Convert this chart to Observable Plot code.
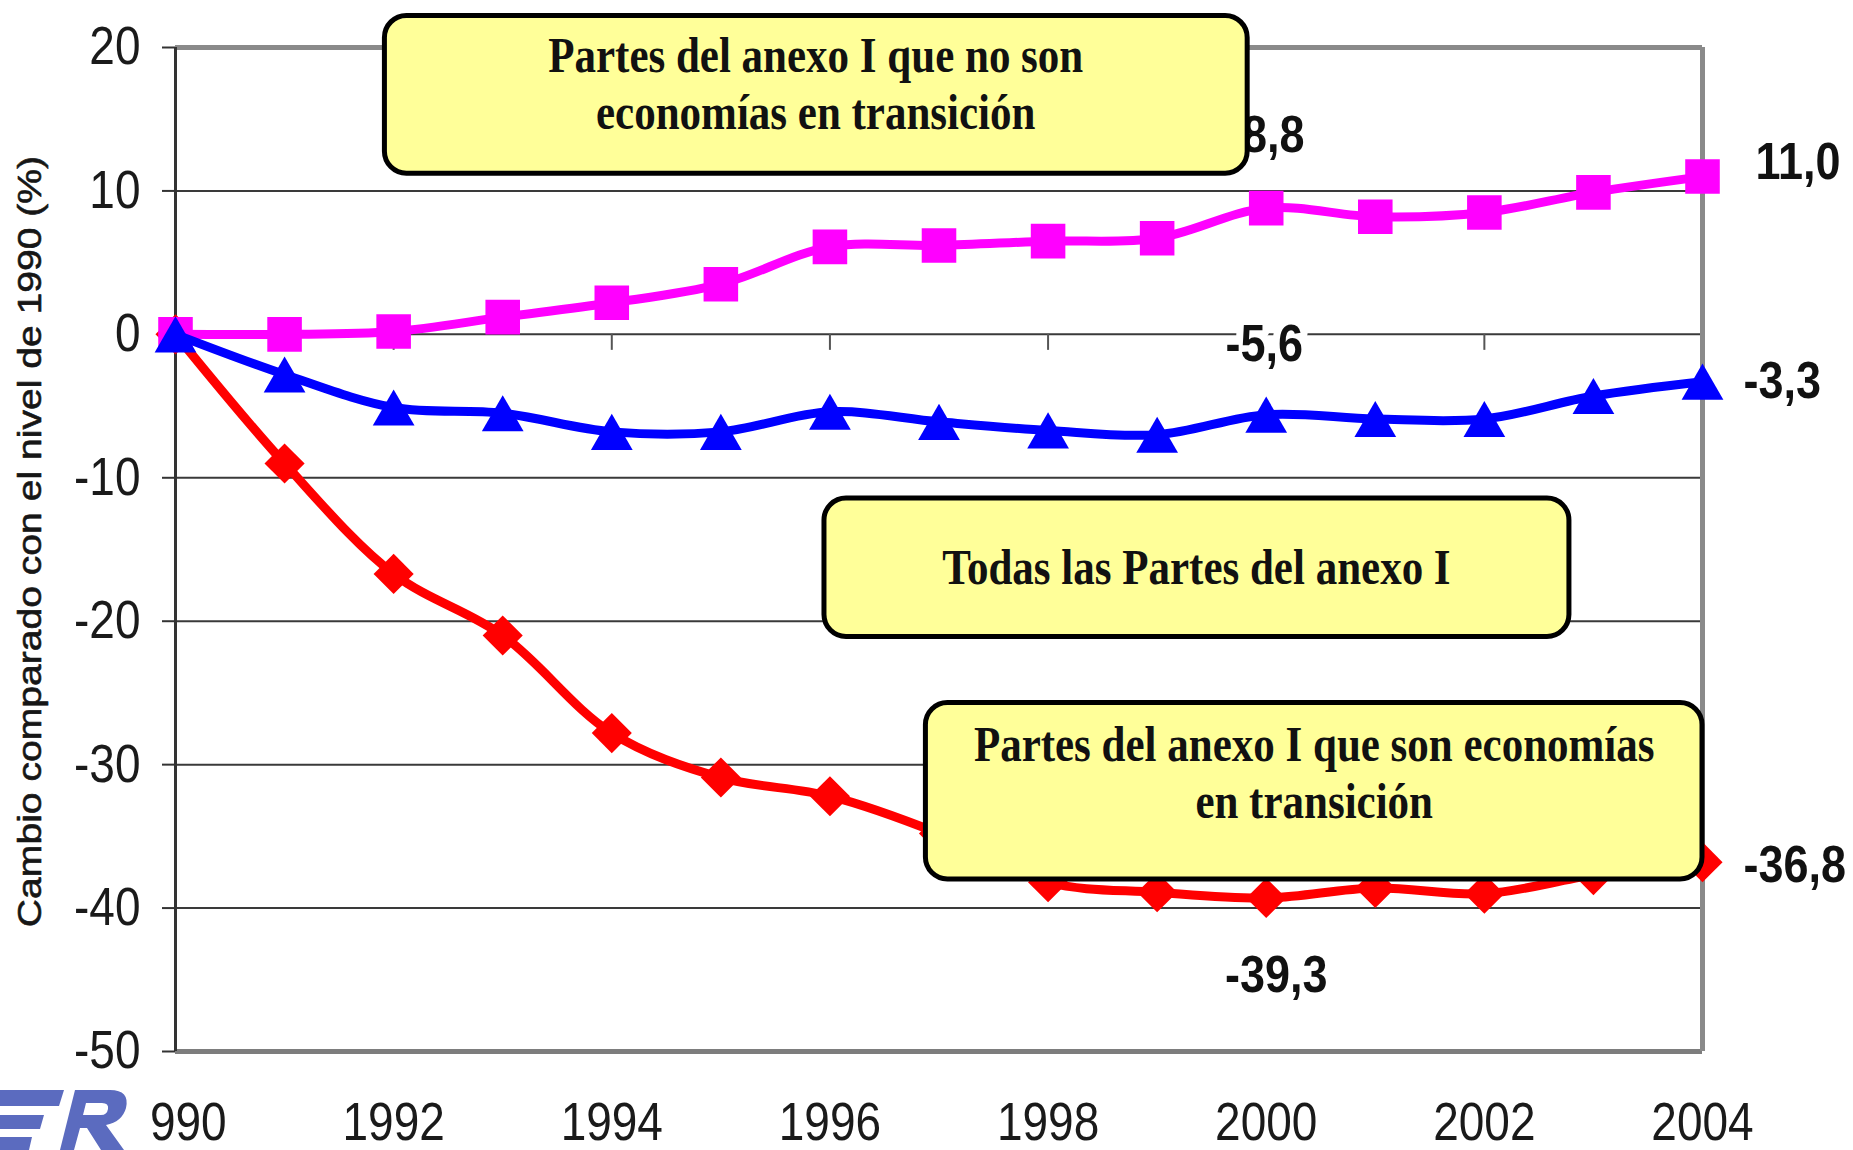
<!DOCTYPE html>
<html>
<head>
<meta charset="utf-8">
<script src="https://cdn.jsdelivr.net/npm/d3@7"></script>
<script src="https://cdn.jsdelivr.net/npm/@observablehq/plot@0.6"></script>
<style>
  html, body { margin: 0; padding: 0; background: #fff; }
  #wrap { position: relative; width: 1853px; height: 1150px; overflow: hidden; background: #fff; }
  #wrap > svg { display: block; }
  #logo { position: absolute; left: 0; top: 0; pointer-events: none; }
</style>
</head>
<body>
<div id="wrap"></div>
<script>
// ---------------- data ----------------
const years = [1990, 1991, 1992, 1993, 1994, 1995, 1996, 1997, 1998, 1999, 2000, 2001, 2002, 2003, 2004];
const nonEIT    = [0, 0, 0.2, 1.2, 2.2, 3.5, 6.1, 6.2, 6.5, 6.7, 8.8, 8.2, 8.5, 9.9, 11.0];
const allAnnexI = [0, -2.8, -5.1, -5.5, -6.8, -6.8, -5.4, -6.1, -6.7, -7.0, -5.6, -5.9, -5.9, -4.3, -3.3];
const eit       = [0, -9.0, -16.7, -21.0, -27.8, -30.9, -32.2, -34.8, -38.2, -38.9, -39.3, -38.6, -39.0, -37.7, -36.8];
const yTicks = [-50, -40, -30, -20, -10, 0, 10, 20];
const xTickYears = [1990, 1992, 1994, 1996, 1998, 2000, 2002, 2004];
const yTitle = "Cambio comparado con el nivel de 1990 (%)";
const boxLabels = [
  "Partes del anexo I que no son\neconomías en transición",
  "Todas las Partes del anexo I",
  "Partes del anexo I que son economías\nen transición"
];

// ---------------- layout ----------------
const W = 1853, H = 1150;
const mL = 175, mR = 151, mT = 47, mB = 99;
const yMin = -50, yMax = 20, xMin = 1990, xMax = 2004;
const pxPerUnit = (H - mT - mB) / (yMax - yMin);
const pxPerYear = (W - mL - mR) / (xMax - xMin);

const rows = s => years.map((year, i) => ({year, value: s[i]}));
const fmt = v => v.toFixed(1).replace(".", ",");

const sans = "Liberation Sans, Arial, sans-serif";
const serif = "Liberation Serif, Times New Roman, serif";

// annotation boxes (data-space placement)
const notes = [
  {label: boxLabels[0], x1: 1991.92, x2: 1999.83, y1: 22.2, y2: 11.2, tx: 1995.87, ty: 17.55},
  {label: boxLabels[1], x1: 1995.95, x2: 2002.78, y1: -11.45, y2: -21.1, tx: 1999.36, ty: -16.15},
  {label: boxLabels[2], x1: 1996.88, x2: 2004.0, y1: -25.7, y2: -38.0, tx: 2000.44, ty: -30.45}
];

// value labels: series, index, offsets
const valueLabels = [
  {s: nonEIT, i: 14, dx: 53, dy: -14, anchor: "start", halo: false},
  {s: nonEIT, i: 10, dx: 7, dy: -73, anchor: "middle", halo: true},
  {s: allAnnexI, i: 10, dx: -2, dy: -70, anchor: "middle", halo: true},
  {s: allAnnexI, i: 14, dx: 41, dy: 0, anchor: "start", halo: false},
  {s: eit, i: 10, dx: 10, dy: 77, anchor: "middle", halo: false},
  {s: eit, i: 14, dx: 41, dy: 3, anchor: "start", halo: false}
];

const series = [
  {data: rows(eit), color: "#ff0000", symbol: "square", r: 16, rotate: 45, dy: 0},
  {data: rows(nonEIT), color: "#ff00ff", symbol: "square", r: 19.5, rotate: 0, dy: 0},
  {data: rows(allAnnexI), color: "#0000ff", symbol: "triangle", r: 15.5, rotate: 0, dy: 6}
];

const marks = [
  // gridlines
  Plot.ruleY(yTicks.filter(v => v > yMin && v < yMax), {y: d => d, stroke: "#3a3a3a", strokeWidth: 2}),
  // x ticks on the zero line
  Plot.ruleX(xTickYears, {x: d => d, y1: 0, y2: -16 / pxPerUnit, stroke: "#555", strokeWidth: 2}),
  // y ticks
  Plot.ruleY(yTicks, {y: d => d, x1: xMin - 13 / pxPerYear, x2: xMin, stroke: "#333", strokeWidth: 2}),
  // frame
  Plot.ruleY([yMax], {y: d => d, stroke: "#8a8a8a", strokeWidth: 5}),
  Plot.ruleY([yMin], {y: d => d, stroke: "#7d7d7d", strokeWidth: 5}),
  Plot.ruleX([xMax], {x: d => d, y1: yMin, y2: yMax, stroke: "#8a8a8a", strokeWidth: 5}),
  Plot.ruleX([xMin], {x: d => d, y1: yMin, y2: yMax, stroke: "#333", strokeWidth: 3}),
];

for (const s of series) {
  marks.push(Plot.line(s.data, {x: "year", y: "value", stroke: s.color, strokeWidth: 9, curve: "catmull-rom", strokeLinejoin: "round"}));
  marks.push(Plot.dot(s.data, {x: "year", y: "value", symbol: s.symbol, r: s.r, fill: s.color, stroke: "none", rotate: s.rotate, dy: s.dy}));
}

// value labels
for (const v of valueLabels) {
  marks.push(Plot.text([{year: years[v.i], value: v.s[v.i]}], {
    x: "year", y: "value", text: d => fmt(d.value),
    dx: v.dx, dy: v.dy, textAnchor: v.anchor, lineAnchor: "middle",
    fontFamily: sans, fontSize: 45, fontWeight: "bold", fill: "#111",
    ...(v.halo ? {stroke: "white", strokeWidth: 14, paintOrder: "stroke"} : {})
  }));
}

// annotation boxes
marks.push(Plot.rect(notes, {x1: "x1", x2: "x2", y1: "y1", y2: "y2", fill: "#ffff99", stroke: "#000", strokeWidth: 5, rx: 22}));
marks.push(Plot.text(notes, {x: "tx", y: "ty", text: "label", fontFamily: serif, fontWeight: "bold", fontSize: 43, lineHeight: 1.1, lineAnchor: "middle", fill: "#111", textAnchor: "middle"}));

// axis labels
marks.push(Plot.text(yTicks, {y: d => d, text: d => String(d), frameAnchor: "left", dx: -35, textAnchor: "end", lineAnchor: "middle", fontFamily: sans, fontSize: 46, fill: "#1a1a1a"}));
marks.push(Plot.text(xTickYears, {x: d => d, text: d => String(d), frameAnchor: "bottom", dy: 72, textAnchor: "middle", lineAnchor: "middle", fontFamily: sans, fontSize: 46, fill: "#1a1a1a"}));
marks.push(Plot.text([yTitle], {text: d => d, frameAnchor: "left", dx: -145, dy: -8, rotate: -90, textAnchor: "middle", lineAnchor: "middle", fontFamily: sans, fontSize: 34, fill: "#161616", stroke: "#161616", strokeWidth: 0.6}));

const chart = Plot.plot({
  width: W, height: H,
  marginLeft: mL, marginRight: mR, marginTop: mT, marginBottom: mB,
  style: {background: "white", fontFamily: sans, overflow: "visible"},
  x: {type: "linear", domain: [xMin, xMax], axis: null},
  y: {type: "linear", domain: [yMin, yMax], axis: null},
  marks
});

// the reference lettering is drawn taller than normal: stretch every text vertically
const isNum = v => v != null && v !== "" && isFinite(+v);
chart.querySelectorAll("text").forEach(t => {
  const holder = t.closest("[font-family]");
  const fam = holder ? holder.getAttribute("font-family") : "";
  const s = fam.includes("Serif") ? 1.2 : 1.15;
  let tx = 0, ty = 0;
  const ax = t.getAttribute("x"), ay = t.getAttribute("y");
  if (isNum(ax)) { tx = +ax; t.removeAttribute("x"); }
  if (isNum(ay)) { ty = +ay; t.removeAttribute("y"); }
  const tr = t.getAttribute("transform") || "";
  const scale = tr.includes("rotate") ? `scale(${s},1)` : `scale(1,${s})`;
  t.setAttribute("transform", `${tr} translate(${tx},${ty}) ${scale}`.trim());
});

const wrap = document.getElementById("wrap");
wrap.appendChild(chart);

// partial logo in the lower-left corner
const NS = "http://www.w3.org/2000/svg";
const logo = document.createElementNS(NS, "svg");
logo.setAttribute("id", "logo");
logo.setAttribute("width", W); logo.setAttribute("height", H);
const bg = document.createElementNS(NS, "rect");
bg.setAttribute("x", 0); bg.setAttribute("y", 1084);
bg.setAttribute("width", 150); bg.setAttribute("height", 66);
bg.setAttribute("fill", "#fff");
logo.appendChild(bg);
const p = document.createElementNS(NS, "path");
p.setAttribute("fill", "#5b6bbf");
p.setAttribute("fill-rule", "evenodd");
p.setAttribute("d",
  "M0 1090 L64 1090 L59 1106 L0 1106 Z " +
  "M0 1115 L44 1115 L40 1129 L0 1129 Z " +
  "M0 1137 L32 1137 L29 1150 L0 1150 Z " +
  "M60 1150 L75 1090 L110 1090 Q130 1090 126 1108 Q122 1122 106 1125 L124 1150 L101 1150 L87 1128 L80 1128 L74 1150 Z " +
  "M86 1103 L83 1115 L101 1115 Q107 1115 108 1109 Q109 1103 102 1103 Z");
logo.appendChild(p);
wrap.appendChild(logo);
</script>
</body>
</html>
